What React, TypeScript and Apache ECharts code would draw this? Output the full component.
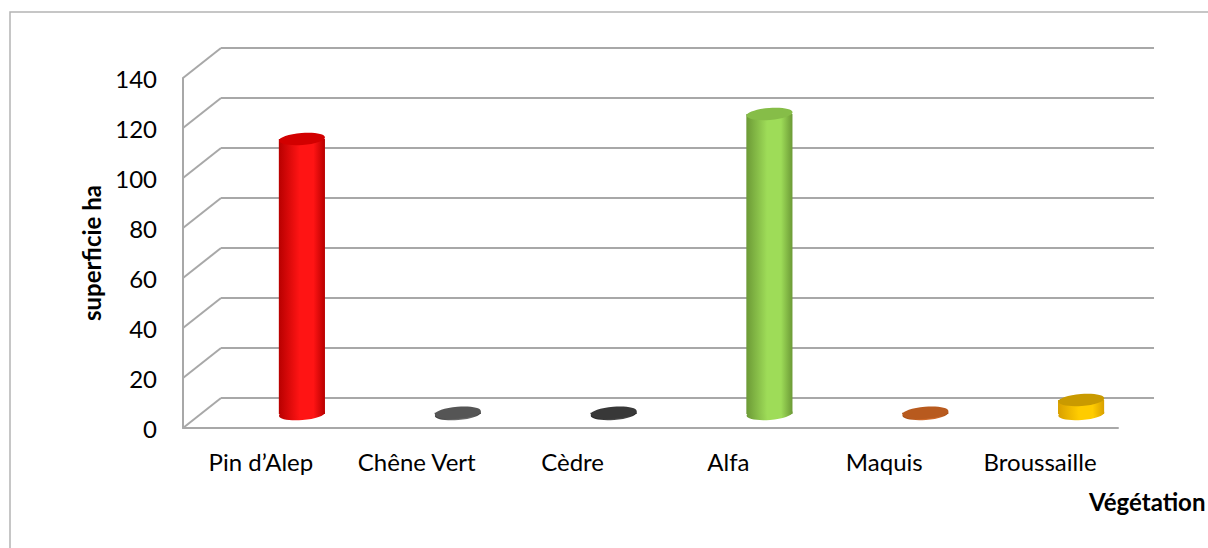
import React, { useEffect, useRef } from "react";
import * as echarts from "echarts";

const categories = ["Pin d’Alep", "Chêne Vert", "Cèdre", "Alfa", "Maquis", "Broussaille"];
const values = [110, 0.5, 0.5, 120, 0.5, 5.6];
const yTicks = [0, 20, 40, 60, 80, 100, 120, 140];

const barColors = [
  { edge: "#b80000", mid: "#ff1414", top: "#d20000" },
  { edge: "#3e3e3e", mid: "#6a6a6a", top: "#555555" },
  { edge: "#262626", mid: "#474747", top: "#383838" },
  { edge: "#6c9a36", mid: "#9edc58", top: "#86bd48" },
  { edge: "#a44d14", mid: "#cf6a2a", top: "#b85a1e" },
  { edge: "#d9a000", mid: "#ffcc00", top: "#c99a00" },
];

const FONT = "Lato";
const DX = 38;
const DY = -30;
const GRID_COLOR = "#a8a8a8";

export default function App() {
  const ref = useRef<HTMLDivElement>(null);
  useEffect(() => {
    if (!ref.current) return;
    const chart = echarts.init(ref.current, undefined, { renderer: "svg" });
    const option: any = {
      animation: false,
      backgroundColor: "#ffffff",
      grid: [
        { left: 183, top: 78, right: 90, bottom: 120 },
        { left: 183 + DX, top: 78 + DY, right: 54, bottom: 120 - DY },
      ],
      xAxis: [
        {
          type: "category",
          gridIndex: 0,
          data: categories,
          axisLine: { show: true, lineStyle: { color: GRID_COLOR, width: 2 } },
          axisTick: { show: false },
          axisLabel: { color: "#000", fontFamily: FONT, fontSize: 24, margin: 21 },
          splitLine: { show: false },
        },
        {
          type: "category",
          gridIndex: 1,
          data: categories,
          show: false,
        },
      ],
      yAxis: [
        {
          type: "value",
          gridIndex: 0,
          min: 0,
          max: 140,
          interval: 20,
          axisLine: { show: true, lineStyle: { color: GRID_COLOR, width: 2 } },
          axisTick: { show: false },
          splitLine: { show: false },
          axisLabel: { color: "#000", fontFamily: FONT, fontSize: 24, margin: 26 },
          name: "superficie ha",
          nameLocation: "middle",
          nameRotate: 90,
          nameGap: 80,
          nameTextStyle: { color: "#000", fontFamily: FONT, fontSize: 24, fontWeight: "bold" },
        },
        {
          type: "value",
          gridIndex: 1,
          min: 0,
          max: 140,
          interval: 20,
          axisLine: { show: false },
          axisTick: { show: false },
          axisLabel: { show: false },
          splitLine: { show: true, lineStyle: { color: GRID_COLOR, width: 2 } },
        },
      ],
      series: [
        {
          type: "custom",
          xAxisIndex: 0,
          yAxisIndex: 0,
          data: yTicks.map((t) => [0, t]),
          encode: { x: 0, y: 1 },
          silent: true,
          clip: false,
          renderItem: (params: any, api: any) => {
            const p = api.coord([0, api.value(1)]);
            const x0 = params.coordSys.x;
            return {
              type: "line",
              shape: { x1: x0, y1: p[1], x2: x0 + DX, y2: p[1] + DY },
              style: { stroke: GRID_COLOR, lineWidth: 2 },
            };
          },
        },
        {
          type: "custom",
          xAxisIndex: 0,
          yAxisIndex: 0,
          data: values.map((v, i) => [i, v]),
          encode: { x: 0, y: 1 },
          clip: false,
          renderItem: (params: any, api: any) => {
            const i = api.value(0);
            const v = api.value(1);
            const base = api.coord([i, 0]);
            const top = api.coord([i, v]);
            const band = api.size([1, 0])[0];
            const cx = base[0] + band * 0.263;
            const yb = base[1] - 14;
            const yt = top[1] - 14;
            const rx = band * 0.148;
            const ry = 6;
            const c = barColors[i];
            const grad = new echarts.graphic.LinearGradient(0, 0, 1, 0, [
              { offset: 0, color: c.edge },
              { offset: 0.45, color: c.mid },
              { offset: 0.75, color: c.mid },
              { offset: 1, color: c.edge },
            ]);
            const rot = 0.08;
            return {
              type: "group",
              children: [
                {
                  type: "ellipse",
                  shape: { cx, cy: yb, rx, ry },
                  rotation: rot,
                  originX: cx,
                  originY: yb,
                  style: { fill: grad },
                },
                {
                  type: "rect",
                  shape: { x: cx - rx, y: yt, width: rx * 2, height: Math.max(0, yb - yt) },
                  style: { fill: grad },
                },
                {
                  type: "ellipse",
                  shape: { cx, cy: yt, rx, ry },
                  rotation: rot,
                  originX: cx,
                  originY: yt,
                  style: { fill: c.top },
                },
              ],
            };
          },
        },
      ],
      graphic: [
        {
          type: "rect",
          shape: { x: 10, y: 12, width: 1400, height: 700 },
          style: { fill: "none", stroke: "#b4b4b4", lineWidth: 1.5 },
          silent: true,
        },
        {
          type: "text",
          x: 1089,
          y: 501,
          style: {
            text: "Végétation",
            fill: "#000",
            font: `bold 24px ${FONT}`,
            textVerticalAlign: "middle",
          },
        },
      ],
    };
    chart.setOption(option);
    return () => chart.dispose();
  }, []);
  return (
    <div
      ref={ref}
      style={{ position: "fixed", left: 0, top: 0, width: 1208, height: 548 }}
    />
  );
}
